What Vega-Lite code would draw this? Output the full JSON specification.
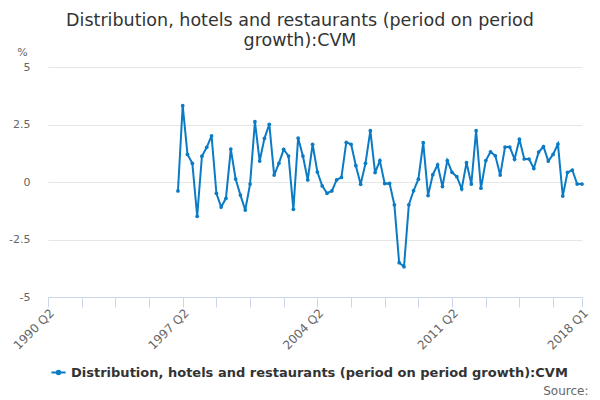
{
  "$schema": "https://vega.github.io/schema/vega-lite/v6.json",
  "width": 534,
  "height": 230,
  "autosize": {"type": "none"},
  "padding": {"left": 48, "top": 67, "right": 18, "bottom": 103},
  "title": {
    "text": ["Distribution, hotels and restaurants (period on period", "growth):CVM"],
    "anchor": "middle",
    "dx": -15,
    "offset": -3,
    "fontSize": 17.5,
    "fontWeight": "normal",
    "color": "#333",
    "lineHeight": 20
  },
  "data": {
    "values": [
      {"date": "1997-01-01", "value": -0.39},
      {"date": "1997-04-01", "value": 3.32},
      {"date": "1997-07-01", "value": 1.2},
      {"date": "1997-10-01", "value": 0.81},
      {"date": "1998-01-01", "value": -1.49},
      {"date": "1998-04-01", "value": 1.12},
      {"date": "1998-07-01", "value": 1.51},
      {"date": "1998-10-01", "value": 2.01},
      {"date": "1999-01-01", "value": -0.49},
      {"date": "1999-04-01", "value": -1.09},
      {"date": "1999-07-01", "value": -0.71},
      {"date": "1999-10-01", "value": 1.43},
      {"date": "2000-01-01", "value": 0.13},
      {"date": "2000-04-01", "value": -0.57},
      {"date": "2000-07-01", "value": -1.22},
      {"date": "2000-10-01", "value": -0.09},
      {"date": "2001-01-01", "value": 2.62},
      {"date": "2001-04-01", "value": 0.91},
      {"date": "2001-07-01", "value": 1.9},
      {"date": "2001-10-01", "value": 2.51},
      {"date": "2002-01-01", "value": 0.3},
      {"date": "2002-04-01", "value": 0.81},
      {"date": "2002-07-01", "value": 1.42},
      {"date": "2002-10-01", "value": 1.13},
      {"date": "2003-01-01", "value": -1.19},
      {"date": "2003-04-01", "value": 1.91},
      {"date": "2003-07-01", "value": 1.13},
      {"date": "2003-10-01", "value": 0.09},
      {"date": "2004-01-01", "value": 1.64},
      {"date": "2004-04-01", "value": 0.43},
      {"date": "2004-07-01", "value": -0.17},
      {"date": "2004-10-01", "value": -0.49},
      {"date": "2005-01-01", "value": -0.39},
      {"date": "2005-04-01", "value": 0.09},
      {"date": "2005-07-01", "value": 0.2},
      {"date": "2005-10-01", "value": 1.72},
      {"date": "2006-01-01", "value": 1.64},
      {"date": "2006-04-01", "value": 0.71},
      {"date": "2006-07-01", "value": -0.1},
      {"date": "2006-10-01", "value": 0.81},
      {"date": "2007-01-01", "value": 2.23},
      {"date": "2007-04-01", "value": 0.41},
      {"date": "2007-07-01", "value": 0.93},
      {"date": "2007-10-01", "value": -0.07},
      {"date": "2008-01-01", "value": -0.06},
      {"date": "2008-04-01", "value": -0.99},
      {"date": "2008-07-01", "value": -3.51},
      {"date": "2008-10-01", "value": -3.68},
      {"date": "2009-01-01", "value": -0.99},
      {"date": "2009-04-01", "value": -0.38},
      {"date": "2009-07-01", "value": 0.12},
      {"date": "2009-10-01", "value": 1.71},
      {"date": "2010-01-01", "value": -0.59},
      {"date": "2010-04-01", "value": 0.32},
      {"date": "2010-07-01", "value": 0.75},
      {"date": "2010-10-01", "value": -0.2},
      {"date": "2011-01-01", "value": 0.93},
      {"date": "2011-04-01", "value": 0.42},
      {"date": "2011-07-01", "value": 0.23},
      {"date": "2011-10-01", "value": -0.3},
      {"date": "2012-01-01", "value": 0.84},
      {"date": "2012-04-01", "value": -0.09},
      {"date": "2012-07-01", "value": 2.23},
      {"date": "2012-10-01", "value": -0.27},
      {"date": "2013-01-01", "value": 0.93},
      {"date": "2013-04-01", "value": 1.31},
      {"date": "2013-07-01", "value": 1.14},
      {"date": "2013-10-01", "value": 0.3},
      {"date": "2014-01-01", "value": 1.52},
      {"date": "2014-04-01", "value": 1.52},
      {"date": "2014-07-01", "value": 0.99},
      {"date": "2014-10-01", "value": 1.86},
      {"date": "2015-01-01", "value": 1.0},
      {"date": "2015-04-01", "value": 1.0},
      {"date": "2015-07-01", "value": 0.59},
      {"date": "2015-10-01", "value": 1.3},
      {"date": "2016-01-01", "value": 1.54},
      {"date": "2016-04-01", "value": 0.91},
      {"date": "2016-07-01", "value": 1.2},
      {"date": "2016-10-01", "value": 1.65},
      {"date": "2017-01-01", "value": -0.61},
      {"date": "2017-04-01", "value": 0.42},
      {"date": "2017-07-01", "value": 0.52},
      {"date": "2017-10-01", "value": -0.09},
      {"date": "2018-01-01", "value": -0.09}
    ]
  },
  "mark": {
    "type": "line",
    "strokeWidth": 2,
    "point": {"filled": true, "size": 14}
  },
  "encoding": {
    "x": {
      "field": "date",
      "type": "temporal",
      "scale": {
        "type": "utc",
        "domain": [
          {"year": 1990, "month": 4, "date": 1, "utc": true},
          {"year": 2018, "month": 1, "date": 1, "utc": true}
        ]
      },
      "axis": {
        "title": "Source:",
        "titleAnchor": "end",
        "titleAlign": "right",
        "titleBaseline": "middle",
        "titleX": 540,
        "titleY": 93,
        "titleFontSize": 12,
        "titleFontWeight": "normal",
        "titleColor": "#666",
        "grid": false,
        "domainColor": "#ccd6eb",
        "tickColor": "#ccd6eb",
        "tickSize": 10,
        "labelAngle": -45,
        "labelColor": "#666",
        "labelFontSize": 12,
        "labelPadding": 0,
        "labelOverlap": false,
        "labelExpr": "utcyear(datum.value) == 2018 || (utcmonth(datum.value) == 3 && (utcyear(datum.value) - 1990) % 7 == 0) ? utcyear(datum.value) + ' Q' + utcquarter(datum.value) : ''",
        "values": [
          {"year": 1990, "month": 4, "date": 1, "utc": true},
          {"year": 1992, "month": 1, "date": 1, "utc": true},
          {"year": 1993, "month": 10, "date": 1, "utc": true},
          {"year": 1995, "month": 7, "date": 1, "utc": true},
          {"year": 1997, "month": 4, "date": 1, "utc": true},
          {"year": 1999, "month": 1, "date": 1, "utc": true},
          {"year": 2000, "month": 10, "date": 1, "utc": true},
          {"year": 2002, "month": 7, "date": 1, "utc": true},
          {"year": 2004, "month": 4, "date": 1, "utc": true},
          {"year": 2006, "month": 1, "date": 1, "utc": true},
          {"year": 2007, "month": 10, "date": 1, "utc": true},
          {"year": 2009, "month": 7, "date": 1, "utc": true},
          {"year": 2011, "month": 4, "date": 1, "utc": true},
          {"year": 2013, "month": 1, "date": 1, "utc": true},
          {"year": 2014, "month": 10, "date": 1, "utc": true},
          {"year": 2016, "month": 7, "date": 1, "utc": true},
          {"year": 2018, "month": 1, "date": 1, "utc": true}
        ]
      }
    },
    "y": {
      "field": "value",
      "type": "quantitative",
      "scale": {"domain": [-5, 5], "nice": false, "zero": false},
      "axis": {
        "title": "%",
        "titleAngle": 0,
        "titleX": -26,
        "titleY": -15,
        "titleAlign": "center",
        "titleBaseline": "middle",
        "titleFontSize": 11,
        "titleFontWeight": "normal",
        "titleColor": "#666",
        "values": [-5, -2.5, 0, 2.5, 5],
        "labelExpr": "'' + datum.value",
        "labelColor": "#666",
        "labelFontSize": 11,
        "labelPadding": 18,
        "ticks": false,
        "domain": false,
        "gridColor": "#e6e6e6"
      }
    },
    "color": {
      "datum": "Distribution, hotels and restaurants (period on period growth):CVM",
      "type": "nominal",
      "scale": {"range": ["#0a7bc4"]},
      "legend": {
        "title": null,
        "orient": "none",
        "legendX": 2,
        "legendY": 297,
        "symbolType": "M -1 0 L 1 0 M -0.25 0 A 0.25 0.25 0 1 1 0.25 0 A 0.25 0.25 0 1 1 -0.25 0",
        "symbolSize": 200,
        "symbolStrokeWidth": 2,
        "symbolFillColor": "#0a7bc4",
        "labelFontSize": 13,
        "labelFontWeight": "bold",
        "labelColor": "#333",
        "labelLimit": 0
      }
    }
  },
  "config": {
    "font": "DejaVu Sans",
    "view": {"stroke": null}
  }
}
